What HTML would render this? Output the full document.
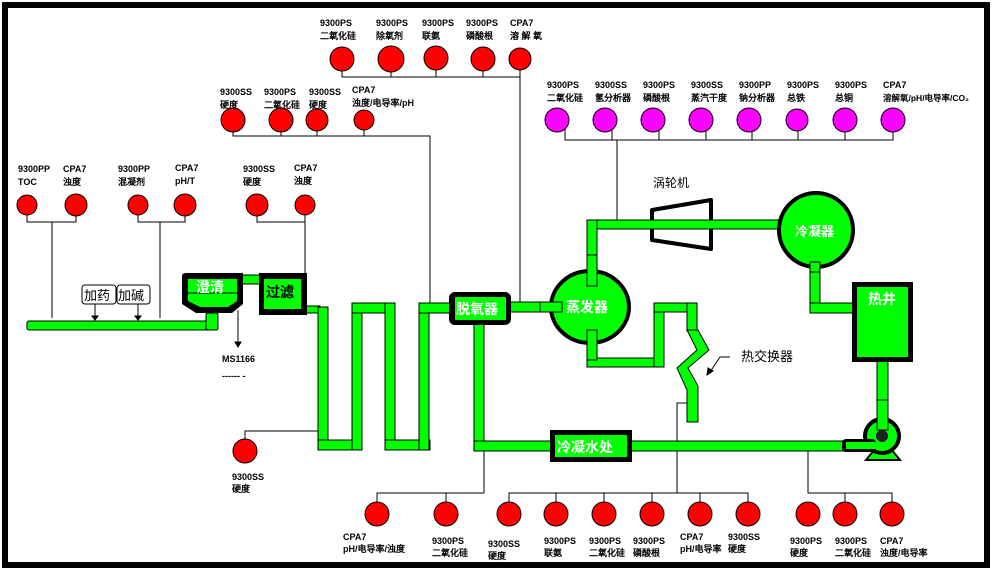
<!DOCTYPE html>
<html><head><meta charset="utf-8"><style>
html,body{margin:0;padding:0;background:#fff;}
svg{display:block;}
.l{font-family:"Liberation Sans","WenQuanYi Zen Hei",sans-serif;font-size:9px;font-weight:bold;fill:#000;}
.w{font-family:"WenQuanYi Zen Hei","Noto Sans CJK SC",sans-serif;font-weight:bold;fill:#fff;}
.p{fill:#00ff00;stroke:#000;stroke-width:1;}
.ln{stroke:#000;stroke-width:1;fill:none;}
.r{fill:#ff0000;stroke:#000;stroke-width:1;}
.m{fill:#ff00ff;stroke:#000;stroke-width:1;}
</style></head><body>
<svg width="995" height="571" viewBox="0 0 995 571" xmlns="http://www.w3.org/2000/svg">
<rect x="0" y="0" width="995" height="571" fill="#fff"/>
<!-- frame -->
<rect x="2" y="2" width="988" height="6" fill="#000"/>
<rect x="2" y="2" width="6" height="566" fill="#000"/>
<rect x="984" y="2" width="6" height="566" fill="#000"/>
<rect x="2" y="562" width="988" height="6" fill="#000"/>

<!-- thin connector lines -->
<g class="ln">
<polyline points="342,59 342,77 520,77"/><line x1="391" y1="65" x2="391" y2="77"/><line x1="436" y1="65" x2="436" y2="77"/><line x1="483" y1="65" x2="483" y2="77"/>
<line x1="520" y1="59" x2="520" y2="303"/>
<polyline points="233,120 233,136 430,136 430,303"/><line x1="281" y1="126" x2="281" y2="136"/><line x1="317" y1="126" x2="317" y2="136"/><line x1="364" y1="126" x2="364" y2="136"/>
<polyline points="27,205 27,222 76,222 76,205"/><line x1="52" y1="222" x2="52" y2="318"/>
<polyline points="138,205 138,222 185,222 185,205"/><line x1="160" y1="222" x2="160" y2="318"/>
<polyline points="257,205 257,222 305,222 305,208"/><line x1="305" y1="222" x2="305" y2="306"/>
<polyline points="565,120 565,140 893,140 893,120"/><line x1="612" y1="126" x2="612" y2="140"/><line x1="659" y1="126" x2="659" y2="140"/><line x1="706" y1="126" x2="706" y2="140"/><line x1="752" y1="126" x2="752" y2="140"/><line x1="798" y1="126" x2="798" y2="140"/><line x1="845" y1="126" x2="845" y2="140"/>
<line x1="617" y1="140" x2="617" y2="222"/>
<polyline points="245,451 245,431 318,431"/>
<polyline points="484,450 484,493 377,493 377,514"/><line x1="446" y1="493" x2="446" y2="514"/>
<polyline points="509,514 509,493 748,493 748,514"/><line x1="556" y1="493" x2="556" y2="514"/><line x1="604" y1="493" x2="604" y2="514"/><line x1="652" y1="493" x2="652" y2="514"/><line x1="700" y1="493" x2="700" y2="514"/>
<polyline points="677,493 677,403 687,403"/>
<polyline points="808,451 808,493 892,493 892,514"/><line x1="845" y1="493" x2="845" y2="514"/>
<line x1="238" y1="310" x2="238" y2="344"/><polygon points="235,342 241,342 238,347" fill="#000"/>
<line x1="95" y1="303" x2="95" y2="318"/><polygon points="92,316 98,316 95,320" fill="#000"/>
<line x1="138" y1="303" x2="138" y2="318"/><polygon points="135,316 141,316 138,320" fill="#000"/>
<polyline points="730,357 720,357 710,372"/><polygon points="707,375 708,368 713,371" fill="#000"/>
</g>

<!-- sensors -->
<g class="r">
<circle cx="342" cy="59" r="12"/><circle cx="391" cy="59" r="13"/><circle cx="436" cy="58" r="12"/><circle cx="483" cy="59" r="12"/><circle cx="520" cy="59" r="11"/>
<circle cx="233" cy="120" r="12"/><circle cx="281" cy="120" r="12"/><circle cx="317" cy="120" r="11"/><circle cx="364" cy="120" r="10"/>
<circle cx="27" cy="205" r="10"/><circle cx="76" cy="205" r="11"/><circle cx="138" cy="205" r="10"/><circle cx="185" cy="205" r="11"/><circle cx="257" cy="205" r="11"/><circle cx="305" cy="205" r="10"/>
<circle cx="245" cy="451" r="12"/>
<circle cx="377" cy="514" r="12"/><circle cx="446" cy="514" r="12"/><circle cx="509" cy="514" r="12"/><circle cx="556" cy="514" r="12"/><circle cx="604" cy="514" r="12"/><circle cx="652" cy="514" r="12"/><circle cx="700" cy="514" r="12"/><circle cx="748" cy="514" r="12"/>
<circle cx="808" cy="514" r="12"/><circle cx="845" cy="514" r="12"/><circle cx="892" cy="514" r="12"/>
</g>
<g class="m">
<circle cx="557" cy="120" r="12"/><circle cx="605" cy="120" r="12"/><circle cx="653" cy="120" r="12"/><circle cx="701" cy="120" r="12"/><circle cx="749" cy="120" r="12"/><circle cx="797" cy="120" r="11"/><circle cx="845" cy="120" r="12"/><circle cx="893" cy="120" r="12"/>
</g>

<!-- labels -->
<g class="l">
<text x="320" y="26">9300PS</text><text x="320" y="39">二氧化硅</text>
<text x="376" y="26">9300PS</text><text x="376" y="39">除氧剂</text>
<text x="422" y="26">9300PS</text><text x="422" y="39">联氨</text>
<text x="466" y="26">9300PS</text><text x="466" y="39">磷酸根</text>
<text x="510" y="26">CPA7</text><text x="510" y="39">溶 解 氧</text>
<text x="220" y="95">9300SS</text><text x="220" y="108">硬度</text>
<text x="264" y="95">9300PS</text><text x="264" y="108">二氧化硅</text>
<text x="309" y="95">9300SS</text><text x="309" y="108">硬度</text>
<text x="352" y="93">CPA7</text><text x="352" y="106">浊度/电导率/pH</text>
<text x="18" y="172">9300PP</text><text x="18" y="185">TOC</text>
<text x="63" y="172">CPA7</text><text x="63" y="185">浊度</text>
<text x="118" y="172">9300PP</text><text x="118" y="185">混凝剂</text>
<text x="175" y="171">CPA7</text><text x="175" y="184">pH/T</text>
<text x="243" y="172">9300SS</text><text x="243" y="185">硬度</text>
<text x="294" y="171">CPA7</text><text x="294" y="184">浊度</text>
<text x="547" y="88">9300PS</text><text x="547" y="101">二氧化硅</text>
<text x="595" y="88">9300SS</text><text x="595" y="101">氢分析器</text>
<text x="643" y="88">9300PS</text><text x="643" y="101">磷酸根</text>
<text x="691" y="88">9300SS</text><text x="691" y="101">蒸汽干度</text>
<text x="739" y="88">9300PP</text><text x="739" y="101">钠分析器</text>
<text x="787" y="88">9300PS</text><text x="787" y="101">总铁</text>
<text x="835" y="88">9300PS</text><text x="835" y="101">总铜</text>
<text x="883" y="88">CPA7</text><text x="883" y="101" style="font-size:8.5px">溶解氧/pH/电导率/CO₂</text>
<text x="222" y="362">MS1166</text>
<text x="222" y="379">------ -</text>
<text x="232" y="480">9300SS</text><text x="232" y="492">硬度</text>
<text x="343" y="540">CPA7</text><text x="343" y="552">pH/电导率/浊度</text>
<text x="432" y="544">9300PS</text><text x="432" y="556">二氧化硅</text>
<text x="488" y="547">9300SS</text><text x="488" y="559">硬度</text>
<text x="544" y="544">9300PS</text><text x="544" y="556">联氨</text>
<text x="589" y="544">9300PS</text><text x="589" y="556">二氧化硅</text>
<text x="633" y="544">9300PS</text><text x="633" y="556">磷酸根</text>
<text x="680" y="540">CPA7</text><text x="680" y="552">pH/电导率</text>
<text x="728" y="540">9300SS</text><text x="728" y="552">硬度</text>
<text x="790" y="544">9300PS</text><text x="790" y="556">硬度</text>
<text x="835" y="544">9300PS</text><text x="835" y="556">二氧化硅</text>
<text x="880" y="544">CPA7</text><text x="880" y="556">浊度/电导率</text>
</g>
<text x="653" y="187" style="font-family:'WenQuanYi Zen Hei',sans-serif;font-size:12px">涡轮机</text>
<text x="741" y="361" style="font-family:'WenQuanYi Zen Hei',sans-serif;font-size:13px">热交换器</text>

<!-- 加药 加碱 -->
<rect x="82" y="285" width="34" height="19" rx="3" fill="#fff" stroke="#000"/>
<rect x="117" y="285" width="33" height="19" rx="3" fill="#fff" stroke="#000"/>
<text x="84" y="300" style="font-family:'WenQuanYi Zen Hei',sans-serif;font-size:13px">加药</text>
<text x="118" y="300" style="font-family:'WenQuanYi Zen Hei',sans-serif;font-size:13px">加碱</text>

<!-- pipes -->
<rect class="p" x="27" y="321" width="190" height="9" rx="2"/>
<rect class="p" x="206" y="313" width="12" height="17" rx="2"/>
<rect class="p" x="241" y="275" width="20" height="9"/>
<rect class="p" x="305" y="306" width="15" height="7"/>
<rect class="p" x="318" y="307" width="10" height="143"/>
<rect class="p" x="318" y="440" width="44" height="10"/>
<rect class="p" x="352" y="303" width="10" height="147"/>
<rect class="p" x="352" y="303" width="43" height="10"/>
<rect class="p" x="385" y="303" width="10" height="147"/>
<rect class="p" x="385" y="440" width="45" height="10"/>
<rect class="p" x="419" y="303" width="10" height="147"/>
<rect class="p" x="419" y="303" width="33" height="10"/>
<rect class="p" x="510" y="302" width="52" height="10"/>
<rect class="p" x="474" y="323" width="10" height="127"/>
<rect class="p" x="474" y="441" width="80" height="10"/>
<rect class="p" x="630" y="441" width="240" height="10"/>
<rect class="p" x="587" y="220" width="195" height="9"/>
<rect class="p" x="587" y="220" width="10" height="66"/>
<rect class="p" x="810" y="262" width="10" height="51"/>
<rect class="p" x="810" y="303" width="44" height="10"/>
<rect class="p" x="877" y="360" width="11" height="72"/>
<rect class="p" x="587" y="330" width="10" height="37"/>
<rect class="p" x="587" y="358" width="77" height="9"/>
<rect class="p" x="654" y="303" width="10" height="64"/>
<rect class="p" x="654" y="303" width="43" height="9"/>
<rect class="p" x="687" y="303" width="10" height="28"/>
<polygon class="p" points="687,330 698,330 709,350 688,368 698,386 698,422 687,422 687,390 677,368 697,350"/>

<!-- turbine -->
<polygon points="652,210 711,200 711,249 652,240" fill="none" stroke="#000" stroke-width="4" stroke-linejoin="round"/>
<rect class="p" x="600" y="220" width="180" height="9" style="stroke:none"/>
<line x1="587" y1="220" x2="782" y2="220" stroke="#000"/><line x1="597" y1="229" x2="782" y2="229" stroke="#000"/>

<!-- clarifier -->
<path d="M182,276 Q182,273 186,273 L243,273 L243,304 L232,313 L196,313 L182,304 Z" fill="#000"/>
<path d="M188,279 L237,279 L237,301 L228,307 L200,307 L188,301 Z" fill="#00ff00"/>
<line x1="188" y1="293" x2="237" y2="293" stroke="#000"/>
<rect class="p" x="206" y="313" width="12" height="17" rx="2"/>
<text x="196" y="292" class="w" style="font-size:14px">澄清</text>
<!-- filter -->
<rect x="259" y="273" width="48" height="42" fill="#000"/>
<rect x="264" y="279" width="37" height="30" fill="#00ff00"/>
<text x="266" y="297" style="font-family:'WenQuanYi Zen Hei',sans-serif;font-weight:bold;font-size:14px;fill:#000">过滤</text>
<!-- deaerator -->
<rect x="449" y="292" width="62" height="33" rx="6" fill="#000"/>
<rect x="455" y="297" width="51" height="23" fill="#00ff00"/>
<text x="456" y="314" class="w" style="font-size:14px">脱氧器</text>
<!-- evaporator -->
<ellipse cx="590" cy="307" rx="39" ry="36" fill="#00ff00" stroke="#000" stroke-width="4"/>
<rect class="p" x="587" y="255" width="10" height="31"/>
<rect class="p" x="587" y="330" width="10" height="30"/>
<rect class="p" x="540" y="302" width="22" height="10"/>
<text x="566" y="312" class="w" style="font-size:14px">蒸发器</text>
<!-- condenser -->
<circle cx="816" cy="230" r="37" fill="#00ff00" stroke="#000" stroke-width="4"/>
<rect class="p" x="810" y="262" width="10" height="10"/>
<text x="795" y="236" class="w" style="font-size:13px">冷凝器</text>
<!-- hotwell -->
<rect x="852" y="282" width="61" height="80" fill="#000"/>
<rect x="857" y="287" width="51" height="70" fill="#00ff00"/>
<text x="868" y="304" class="w" style="font-size:14px">热井</text>
<!-- pump -->
<polygon points="866,460 900,460 891,449 875,449" fill="#00ff00" stroke="#000" stroke-width="2"/>
<circle cx="882" cy="436" r="17" fill="#00ff00" stroke="#000" stroke-width="4"/>
<rect x="842" y="439" width="34" height="13" rx="4" fill="#000"/>
<rect x="846" y="442" width="30" height="7" fill="#00ff00"/>
<rect class="p" x="877" y="400" width="11" height="30"/>
<circle cx="882" cy="436" r="6" fill="#222"/>
<!-- condensate treatment -->
<rect x="550" y="430" width="82" height="32" fill="#000"/>
<rect x="555" y="435" width="72" height="22" fill="#00ff00"/>
<text x="557" y="452" class="w" style="font-size:14px">冷凝水处</text>
</svg>
</body></html>
